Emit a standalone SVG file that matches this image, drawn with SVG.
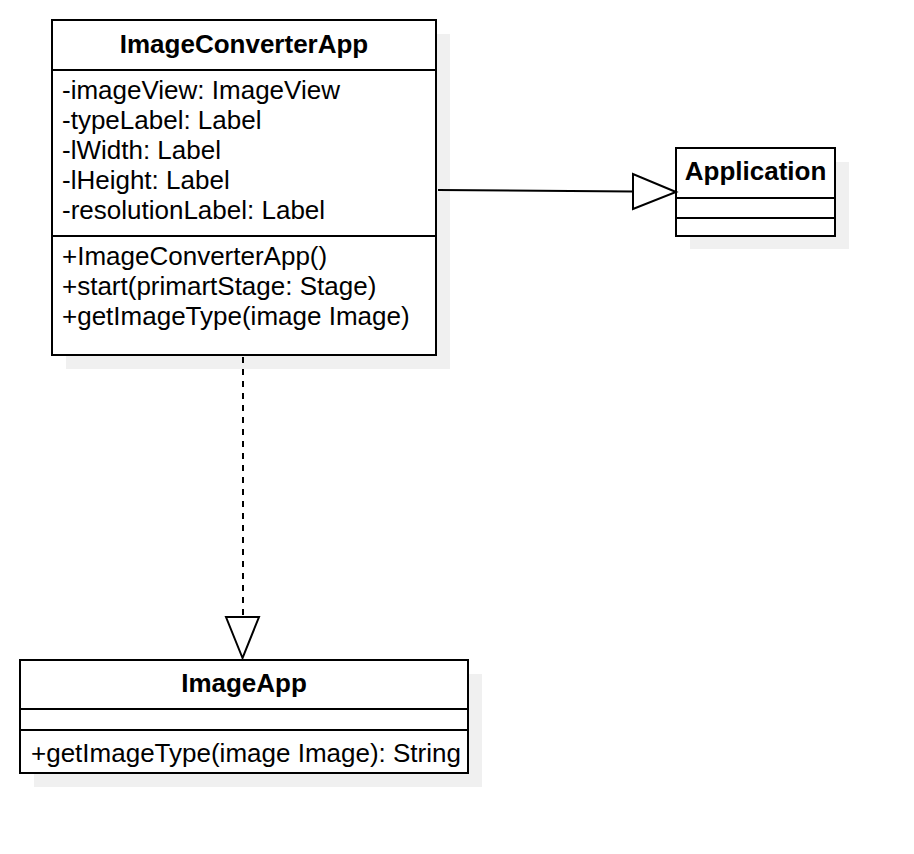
<svg xmlns="http://www.w3.org/2000/svg" width="914" height="854" viewBox="0 0 914 854">
<style>
.box{fill:#ffffff;stroke:#000000;stroke-width:2}
.shadow{fill:#f0f0f0;stroke:none}
.sep{stroke:#000000;stroke-width:2;fill:none}
.title{font-family:"Liberation Sans",Arial,sans-serif;font-size:26px;font-weight:bold;fill:#000;text-anchor:middle}
.txt{font-family:"Liberation Sans",Arial,sans-serif;font-size:26px;fill:#000}
.edge{stroke:#000000;stroke-width:2;fill:none}
.head{fill:#ffffff;stroke:#000000;stroke-width:2;stroke-linejoin:miter}
</style>
<rect width="914" height="854" fill="#ffffff"/>
<g id="ImageConverterApp">
<rect class="shadow" x="66" y="34" width="384" height="335"/>
<rect class="box" x="52" y="20" width="384" height="335"/>
<line class="sep" x1="52" y1="70" x2="436" y2="70"/>
<line class="sep" x1="52" y1="236" x2="436" y2="236"/>
<text class="title" x="244" y="53">ImageConverterApp</text>
<text class="txt" x="62" y="99">-imageView: ImageView</text>
<text class="txt" x="62" y="129">-typeLabel: Label</text>
<text class="txt" x="62" y="159">-lWidth: Label</text>
<text class="txt" x="62" y="189">-lHeight: Label</text>
<text class="txt" x="62" y="219">-resolutionLabel: Label</text>
<text class="txt" x="62" y="265">+ImageConverterApp()</text>
<text class="txt" x="62" y="295">+start(primartStage: Stage)</text>
<text class="txt" x="62" y="325">+getImageType(image Image)</text>
</g>
<g id="Application">
<rect class="shadow" x="690" y="162" width="159" height="87"/>
<rect class="box" x="676" y="148" width="159" height="88"/>
<line class="sep" x1="676" y1="198" x2="835" y2="198"/>
<line class="sep" x1="676" y1="218" x2="835" y2="218"/>
<text class="title" x="755.5" y="180">Application</text>
</g>
<g id="ImageApp">
<rect class="shadow" x="34" y="674" width="448" height="113"/>
<rect class="box" x="20" y="660" width="448" height="113"/>
<line class="sep" x1="20" y1="709" x2="468" y2="709"/>
<line class="sep" x1="20" y1="730" x2="468" y2="730"/>
<text class="title" x="244" y="692">ImageApp</text>
<text class="txt" x="31" y="762">+getImageType(image Image): String</text>
</g>
<g id="connectors">
<line class="edge" x1="438" y1="190" x2="633" y2="191.5"/>
<polygon class="head" points="676,192 633,174 633,209"/>
<line class="edge" x1="243" y1="357" x2="243" y2="617" stroke-dasharray="6 6"/>
<polygon class="head" points="242.5,658 226,617 259,617"/>
</g>
</svg>
